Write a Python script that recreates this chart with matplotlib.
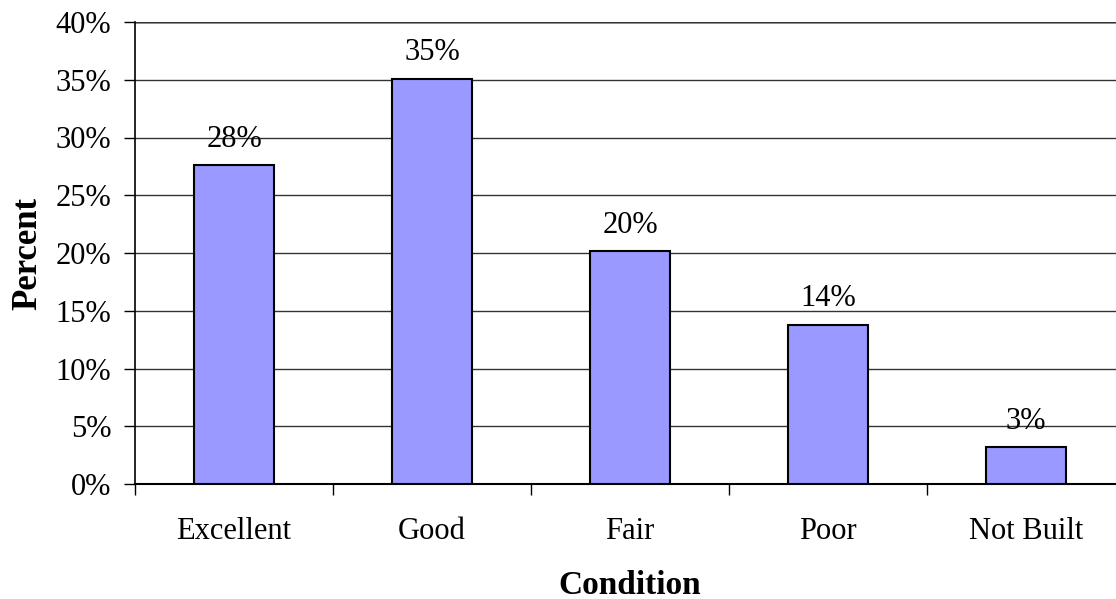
import matplotlib.pyplot as plt
from matplotlib.ticker import FixedLocator, PercentFormatter

categories = ['Excellent', 'Good', 'Fair', 'Poor', 'Not Built']
percents = [27.6, 35.1, 20.2, 13.8, 3.2]
yticks = [0, 5, 10, 15, 20, 25, 30, 35, 40]

plt.rcParams['font.family'] = 'Liberation Serif'

fig = plt.figure(figsize=(11.16, 5.99), dpi=100)
ax = fig.add_axes([135 / 1116, 1 - 484 / 599, 990 / 1116, 462 / 599])

x = range(len(categories))
ax.bar(x, percents, width=0.4, color='#9999ff', edgecolor='black', linewidth=1.5, zorder=3)

for i, v in enumerate(percents):
    ax.annotate(f'{v:.0f}%', (i, v), xytext=(0, 8), textcoords='offset points',
                ha='center', va='bottom', fontsize=22)

ax.set_xlim(-0.5, 4.5)
ax.set_ylim(0, 40)
ax.set_yticks(yticks)
ax.yaxis.set_major_formatter(PercentFormatter(decimals=0))
ax.set_xticks(list(x))
ax.set_xticklabels(categories)
ax.xaxis.set_minor_locator(FixedLocator([-0.5, 0.5, 1.5, 2.5, 3.5]))
ax.tick_params(axis='x', which='major', length=0, pad=24, labelsize=22)
ax.tick_params(axis='x', which='minor', length=8, width=1, direction='out')
ax.tick_params(axis='y', length=8, width=1, direction='out', pad=9, labelsize=22)

ax.grid(axis='y', color='#333333', linewidth=1, zorder=0)
for side in ['top', 'right']:
    ax.spines[side].set_visible(False)
ax.spines['left'].set_linewidth(1.2)
ax.spines['bottom'].set_linewidth(1.5)
ax.axhline(40, color='#999999', linewidth=2, zorder=1)

ax.set_ylabel('Percent', fontsize=25, fontweight='bold', labelpad=8)
ax.set_xlabel('Condition', fontsize=24, fontweight='bold', labelpad=17)

fig.savefig('out.png', dpi=100)
